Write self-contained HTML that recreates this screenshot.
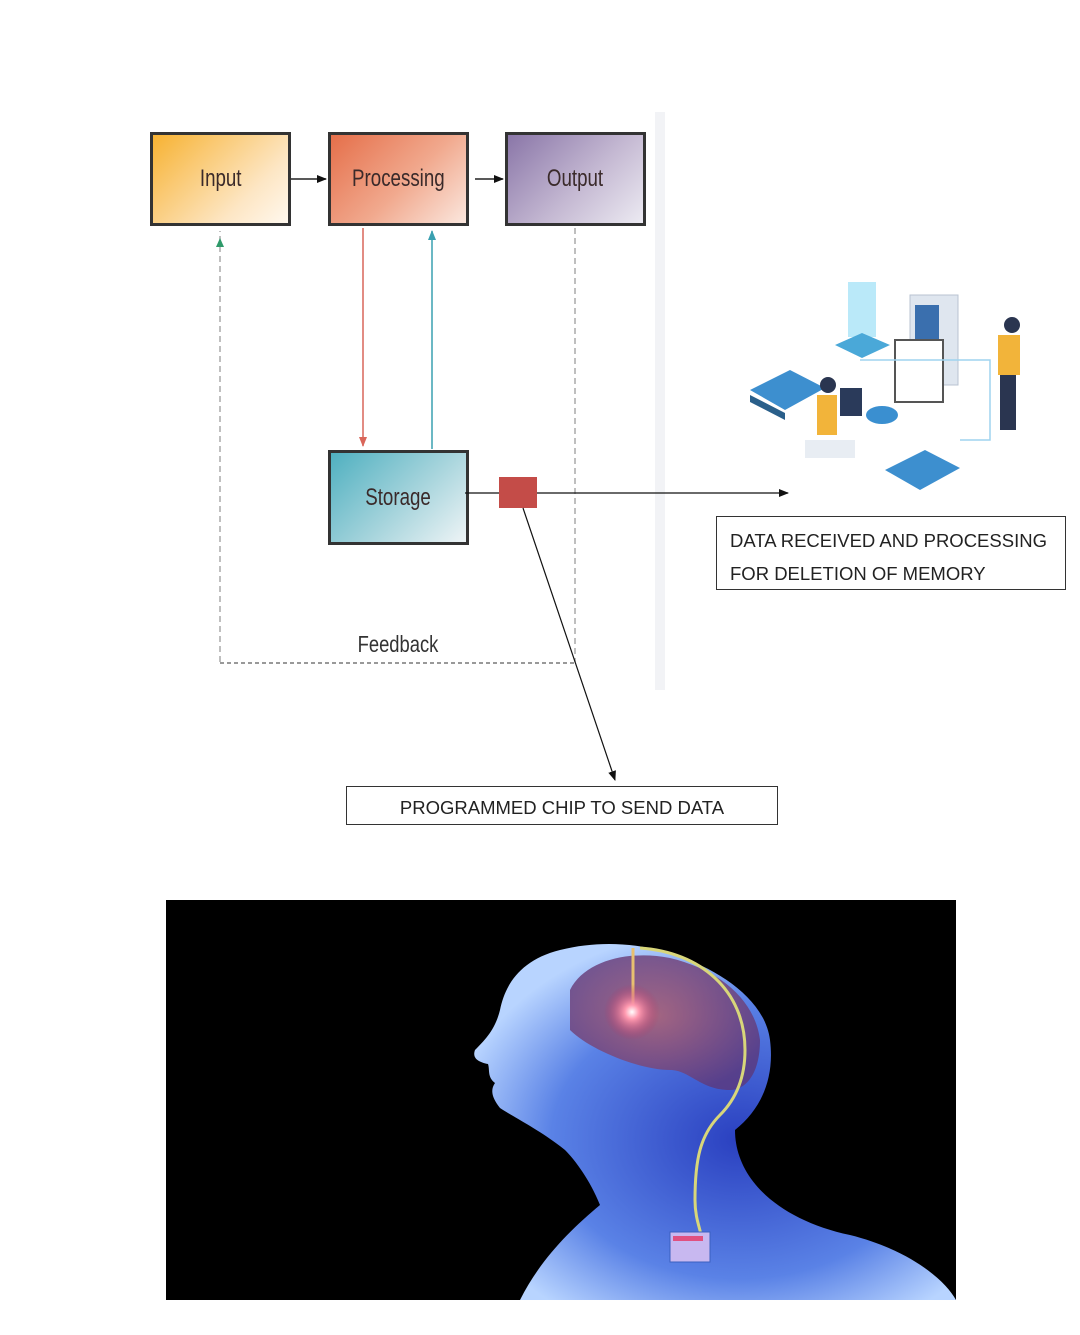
<!DOCTYPE html>
<html><head><meta charset="utf-8"><style>
html,body{margin:0;padding:0;background:#fff;}
body{width:1080px;height:1335px;position:relative;overflow:hidden;font-family:"Liberation Sans",sans-serif;}
.box{position:absolute;border:3px solid #333;box-sizing:border-box;display:flex;align-items:center;justify-content:center;font-family:"Liberation Sans Narrow","Liberation Sans",sans-serif;font-size:24px;color:#3a2a2a;}
.box span{display:inline-block;transform:scaleX(0.78);}
.lbl{position:absolute;border:1px solid #333;box-sizing:border-box;font-size:18.5px;color:#222;}
</style></head><body>
<div style="position:absolute;left:655px;top:112px;width:10px;height:578px;background:#f2f3f6"></div>

<div class="box" style="left:150px;top:132px;width:141px;height:94px;background:linear-gradient(135deg,#f7b232,#fde6c4 70%,#fff8ee)"><span>Input</span></div>
<div class="box" style="left:328px;top:132px;width:141px;height:94px;background:linear-gradient(135deg,#e56f4a,#f1a98e 55%,#fbe7de)"><span>Processing</span></div>
<div class="box" style="left:505px;top:132px;width:141px;height:94px;background:linear-gradient(135deg,#8a76a8,#c4b8d2 55%,#eceaf2)"><span>Output</span></div>
<div class="box" style="left:328px;top:450px;width:141px;height:95px;background:linear-gradient(135deg,#4fb0c0,#a6d4dc 55%,#eef4f6)"><span>Storage</span></div>

<svg width="1080" height="1335" style="position:absolute;left:0;top:0" xmlns="http://www.w3.org/2000/svg">
<defs>
<marker id="ab" markerWidth="10" markerHeight="10" refX="9" refY="5" orient="auto" markerUnits="userSpaceOnUse"><path d="M0,1 L10,5 L0,9z" fill="#111"/></marker>
<marker id="ar" markerWidth="10" markerHeight="10" refX="9" refY="5" orient="auto" markerUnits="userSpaceOnUse"><path d="M0,1 L10,5 L0,9z" fill="#d9665a"/></marker>
<marker id="at" markerWidth="10" markerHeight="10" refX="9" refY="5" orient="auto" markerUnits="userSpaceOnUse"><path d="M0,1 L10,5 L0,9z" fill="#3aa0b0"/></marker>
<radialGradient id="glow" cx="0.5" cy="0.5" r="0.5"><stop offset="0" stop-color="#fff"/><stop offset="0.25" stop-color="#ff9ab0"/><stop offset="1" stop-color="#b03060" stop-opacity="0"/></radialGradient>
<radialGradient id="body" cx="0.55" cy="0.55" r="0.6"><stop offset="0" stop-color="#2a40c0"/><stop offset="0.65" stop-color="#5a82e6"/><stop offset="1" stop-color="#b8d4ff"/></radialGradient>
<radialGradient id="brain" cx="0.45" cy="0.45" r="0.6"><stop offset="0" stop-color="#b06070"/><stop offset="1" stop-color="#5a3a80"/></radialGradient>
</defs>
<line x1="291" y1="179" x2="326" y2="179" stroke="#222" stroke-width="1.5" marker-end="url(#ab)"/>
<line x1="475" y1="179" x2="503" y2="179" stroke="#222" stroke-width="1.5" marker-end="url(#ab)"/>
<line x1="363" y1="228" x2="363" y2="446" stroke="#d9665a" stroke-width="1.5" marker-end="url(#ar)"/>
<line x1="432" y1="449" x2="432" y2="231" stroke="#3aa0b0" stroke-width="1.5" marker-end="url(#at)"/>
<line x1="220" y1="662" x2="220" y2="231" stroke="#aaa" stroke-width="1.5" stroke-dasharray="6,4"/>
<path d="M220,238 L216,247 L224,247z" fill="#2e9a6a"/>
<line x1="575" y1="228" x2="575" y2="662" stroke="#aaa" stroke-width="1.5" stroke-dasharray="6,4"/>
<line x1="220" y1="663" x2="575" y2="663" stroke="#999" stroke-width="2" stroke-dasharray="4,3"/>
<text x="398" y="652" font-family="Liberation Sans Narrow, Liberation Sans, sans-serif" font-size="23" fill="#333" text-anchor="middle" transform="translate(398,0) scale(0.8,1) translate(-398,0)">Feedback</text>
<line x1="465" y1="493" x2="788" y2="493" stroke="#111" stroke-width="1.2" marker-end="url(#ab)"/>
<rect x="499" y="477" width="38" height="31" fill="#c44c48"/>
<line x1="523" y1="508" x2="615" y2="780" stroke="#111" stroke-width="1.2" marker-end="url(#ab)"/>

<g>
<rect x="848" y="282" width="28" height="55" fill="#a9e3f7" opacity="0.8"/>
<path d="M835,345 L862,333 L890,345 L862,358z" fill="#4aa8d8"/>
<path d="M750,390 L790,370 L825,388 L785,410z" fill="#3d8fcf"/>
<path d="M885,470 L925,450 L960,468 L920,490z" fill="#3d8fcf"/>
<path d="M750,395 L785,413 L785,420 L750,402z" fill="#2a5f8a"/>
<rect x="910" y="295" width="48" height="90" fill="#dfe6ef" stroke="#b8c3d2"/>
<rect x="915" y="305" width="24" height="70" fill="#3a6fae"/>
<rect x="895" y="340" width="48" height="62" fill="#fff" stroke="#555" stroke-width="2"/>
<rect x="817" y="395" width="20" height="40" fill="#f2b43a"/>
<circle cx="828" cy="385" r="8" fill="#2a3550"/>
<rect x="840" y="388" width="22" height="28" fill="#2a3a5a"/>
<rect x="805" y="440" width="50" height="18" fill="#e8edf3"/>
<ellipse cx="882" cy="415" rx="16" ry="9" fill="#3a8fd0"/>
<rect x="998" y="335" width="22" height="40" fill="#f2b43a"/>
<circle cx="1012" cy="325" r="8" fill="#2a3550"/>
<rect x="1000" y="375" width="16" height="55" fill="#2a3550"/>
<path d="M860,360 L990,360 L990,440 L960,440" fill="none" stroke="#9fd4ef" stroke-width="1.5"/>
</g>

<rect x="166" y="900" width="790" height="400" fill="#000"/>
<path d="M520,1300 C540,1260 570,1230 600,1205 C590,1180 575,1160 565,1150 C540,1130 515,1118 500,1108 C492,1098 490,1090 495,1083 C487,1077 490,1070 488,1064 C478,1062 472,1058 475,1050 C485,1040 495,1030 500,1010 C505,985 520,960 560,950 C600,940 640,943 675,955 C720,970 765,1000 770,1040 C775,1080 760,1110 735,1130 C735,1180 780,1220 850,1235 C910,1250 945,1280 956,1300 Z" fill="url(#body)"/>
<path d="M570,990 C585,960 630,950 670,958 C720,970 755,1000 760,1040 C760,1075 745,1090 730,1090 C700,1090 690,1070 670,1070 C640,1070 590,1050 570,1030 Z" fill="url(#brain)" opacity="0.85"/>
<path d="M640,948 C700,952 745,990 745,1050 C745,1080 735,1100 720,1115 C700,1135 695,1160 695,1200 C695,1225 705,1235 700,1245" fill="none" stroke="#d8d67a" stroke-width="3"/>
<line x1="633" y1="948" x2="633" y2="1010" stroke="#e8c070" stroke-width="3"/>
<circle cx="632" cy="1012" r="28" fill="url(#glow)"/>
<rect x="670" y="1232" width="40" height="30" fill="#c8b8f0" stroke="#3a60c0"/>
<rect x="673" y="1236" width="30" height="5" fill="#e05080"/>
</svg>

<div class="lbl" style="left:716px;top:516px;width:350px;height:74px;padding:7px 0 0 13px;line-height:33px;">DATA RECEIVED AND PROCESSING<br>FOR DELETION OF MEMORY</div>
<div class="lbl" style="left:346px;top:786px;width:432px;height:39px;text-align:center;line-height:41px;">PROGRAMMED CHIP TO SEND DATA</div>
</body></html>
